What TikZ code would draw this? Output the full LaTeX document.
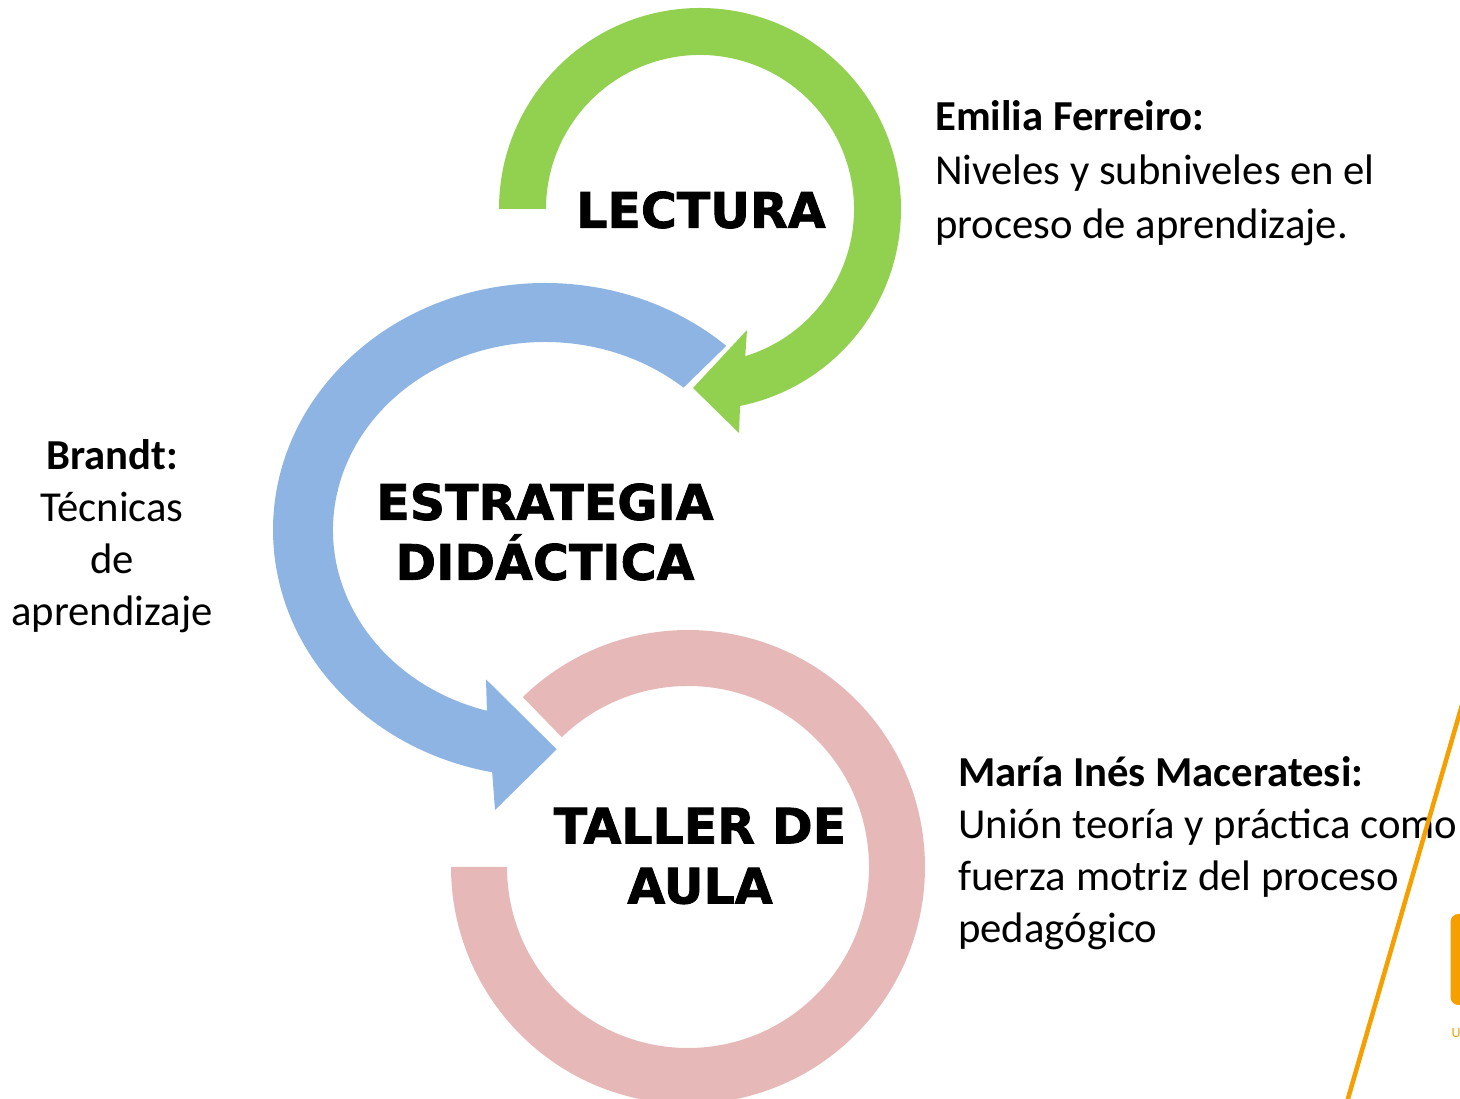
\documentclass[tikz,border=0pt]{standalone}
\usepackage{fontspec}
\setmainfont{Carlito}
\newfontfamily\heavyfont[BoldFeatures={FakeBold=1.6}]{DejaVu Sans}
\usepackage{tikz}
\usetikzlibrary{calc}
\usetikzlibrary{positioning}

\definecolor{lecturagreen}{HTML}{92D050}
\definecolor{estrategiablue}{HTML}{8EB4E3}
\definecolor{tallerpink}{HTML}{E6B9B8}
\definecolor{logoorange}{HTML}{F59F00}

\tikzset{
  heavy/.style={font=\heavyfont\bfseries\fontsize{49}{60}\selectfont, align=center, inner sep=0pt},
  author/.style={font=\fontsize{42.7}{52}\selectfont, inner sep=0pt},
}

\begin{document}
\begin{tikzpicture}[x=1pt,y=1pt]
  \useasboundingbox (0,0) rectangle (1460,1099);
  \clip (0,0) rectangle (1460,1099);
  \coordinate (cL) at (700,890);
  \coordinate (cE) at (545,569);
  \coordinate (cT) at (688,232);

  \fill[tallerpink] ($(cT)+(134.2:237)$) arc[start angle=134.2, end angle=-180, radius=237]
    -- ($(cT)+(180:181)$) arc[start angle=180, end angle=494.2, radius=181] -- cycle;

  \fill[estrategiablue] ($(cE)+(48.2:272 and 247)$)
    arc[start angle=48.2, end angle=258.8, x radius=272, y radius=247]
    -- (495,289) -- (556.7,349.7) -- (486,419.7)
    -- ($(cE)+(254.1:212 and 188)$)
    arc[start angle=254.1, end angle=49.2, x radius=212, y radius=188] -- cycle;

  \fill[lecturagreen] ($(cL)+(180:201)$) arc[start angle=180, end angle=-78.5, radius=201]
    -- (739,666) -- (693,711) -- (747,769)
    -- ($(cL)+(-72.9:154)$) arc[start angle=-72.9, end angle=180, radius=154] -- cycle;

  \node[heavy] (lectura) at (701,889) {LECTURA};
  \node[heavy] (estrategia) at (545,567) {ESTRATEGIA\\DID\'ACTICA};
  \node[heavy] (taller) at (700,243) {TALLER DE\\AULA};

  \node[author, font=\fontsize{42.7}{54}\selectfont, anchor=north west, align=left] (ferreiro) at (935,999)
    {\textbf{Emilia Ferreiro:}\\Niveles y subniveles en el\\proceso de aprendizaje.};
  \node[author, anchor=north, align=center] (brandt) at (112,660)
    {\textbf{Brandt:}\\T\'ecnicas\\de\\aprendizaje};
  \node[author, anchor=north west, align=left] (maceratesi) at (958,343)
    {\textbf{Mar\'ia In\'es Maceratesi:}\\Uni\'on teor\'ia y pr\'actica como\\fuerza motriz del proceso\\pedag\'ogico};

  \draw[logoorange, line width=4.5pt] (1462,394) -- (1347,-3);
  \fill[logoorange, rounded corners=8pt] (1450.5,94) rectangle (1480,185);
  \node[text=logoorange, font=\fontsize{14}{16}\selectfont, inner sep=0pt] (logo) at (1456,66) {U};
\end{tikzpicture}
\end{document}
